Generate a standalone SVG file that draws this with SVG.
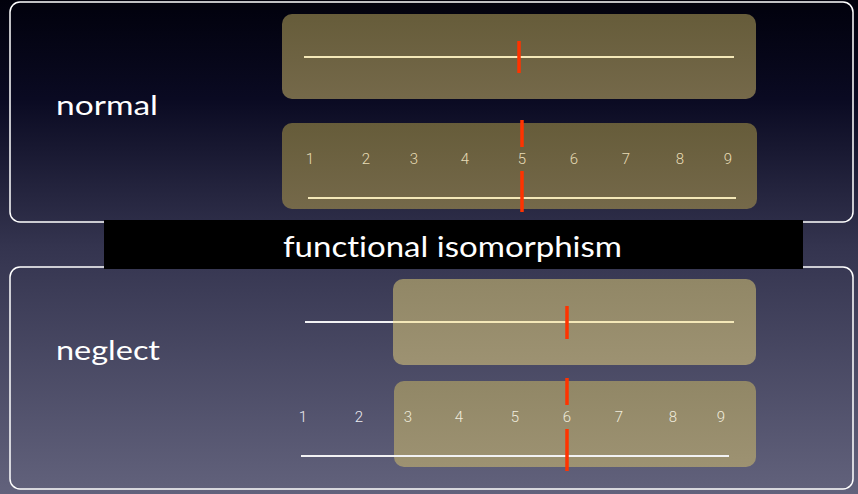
<svg xmlns="http://www.w3.org/2000/svg" width="858" height="494" viewBox="0 0 858 494">
  <defs>
    <linearGradient id="bg" x1="0" y1="0" x2="0" y2="1">
      <stop offset="0" stop-color="#01010c"/>
      <stop offset="0.2" stop-color="#0a0a22"/>
      <stop offset="0.5" stop-color="#34344f"/>
      <stop offset="1" stop-color="#62627c"/>
    </linearGradient>
    <linearGradient id="panelTop" x1="0" y1="0" x2="0" y2="1">
      <stop offset="0" stop-color="#665c3a"/>
      <stop offset="1" stop-color="#75694a"/>
    </linearGradient>
    <linearGradient id="panelBottom" x1="0" y1="0" x2="0" y2="1">
      <stop offset="0" stop-color="#918766"/>
      <stop offset="1" stop-color="#9d9272"/>
    </linearGradient>
  </defs>
  <style>
    text { font-variant-ligatures: none; }
    .frame { fill: none; stroke: #ffffff; stroke-width: 1.5; }
    .label { font-family: "Lato", "Open Sans", "Liberation Sans", sans-serif; font-size: 26px; fill: #ffffff; }
    .num { font-family: "Roboto", "Liberation Sans", sans-serif; font-weight: 300; font-size: 15px; text-anchor: middle; }
    .numIn { fill: #e8dcb6; }
    .numOut { fill: #ececf2; }
    .scale { stroke: #f4e8b8; stroke-width: 2; }
    .scaleOut { stroke: #f2f2f4; stroke-width: 2; }
    .mark { stroke: #ff3300; stroke-width: 3.5; }
  </style>

  <rect width="858" height="494" fill="url(#bg)"/>

  <!-- frames -->
  <g id="normal-frame">
    <rect class="frame" x="10" y="2" width="843" height="220" rx="10"/>
    <text class="label" x="56" y="115" textLength="102" lengthAdjust="spacingAndGlyphs">normal</text>
  </g>
  <g id="neglect-frame">
    <rect class="frame" x="10" y="267" width="843" height="222" rx="10"/>
    <text class="label" x="56" y="360" textLength="104" lengthAdjust="spacingAndGlyphs">neglect</text>
  </g>

  <!-- normal: line bisection -->
  <g id="normal-bisection">
    <rect x="282" y="14" width="474" height="85" rx="10" fill="url(#panelTop)"/>
    <line class="scale" x1="304" y1="57" x2="734" y2="57"/>
    <line class="mark" x1="519" y1="41" x2="519" y2="73"/>
  </g>

  <!-- normal: number scale -->
  <g id="normal-numbers">
    <rect x="282" y="123" width="475" height="86" rx="10" fill="url(#panelTop)"/>
    <g class="num numIn">
      <text x="310" y="164">1</text>
      <text x="366" y="164">2</text>
      <text x="414" y="164">3</text>
      <text x="465" y="164">4</text>
      <text x="522" y="164">5</text>
      <text x="574" y="164">6</text>
      <text x="626" y="164">7</text>
      <text x="680" y="164">8</text>
      <text x="728" y="164">9</text>
    </g>
    <line class="scale" x1="308" y1="198" x2="736" y2="198"/>
    <line class="mark" x1="522" y1="120" x2="522" y2="147"/>
    <line class="mark" x1="522" y1="171" x2="522" y2="212"/>
  </g>

  <!-- caption bar -->
  <g id="caption">
    <rect x="104" y="220" width="699" height="49" fill="#000000"/>
    <text x="283" y="257" font-family="Lato, 'Open Sans', 'Liberation Sans', sans-serif" font-size="29" fill="#ffffff" textLength="339" lengthAdjust="spacingAndGlyphs">functional isomorphism</text>
  </g>

  <!-- neglect: line bisection -->
  <g id="neglect-bisection">
    <rect x="393" y="279" width="363" height="86" rx="10" fill="url(#panelBottom)"/>
    <line class="scaleOut" x1="305" y1="322" x2="393" y2="322"/>
    <line class="scale" x1="393" y1="322" x2="734" y2="322"/>
    <line class="mark" x1="567" y1="306" x2="567" y2="339"/>
  </g>

  <!-- neglect: number scale -->
  <g id="neglect-numbers">
    <rect x="394" y="381" width="362" height="86" rx="10" fill="url(#panelBottom)"/>
    <g class="num numOut">
      <text x="303" y="422">1</text>
      <text x="359" y="422">2</text>
    </g>
    <g class="num" fill="#f0ebdc">
      <text x="408" y="422">3</text>
      <text x="459" y="422">4</text>
      <text x="515" y="422">5</text>
      <text x="567" y="422">6</text>
      <text x="619" y="422">7</text>
      <text x="673" y="422">8</text>
      <text x="721" y="422">9</text>
    </g>
    <line class="scaleOut" x1="301" y1="456" x2="394" y2="456"/>
    <line class="scaleOut" x1="394" y1="456" x2="729" y2="456" stroke="#f6f2e6"/>
    <line class="mark" x1="567" y1="378" x2="567" y2="405"/>
    <line class="mark" x1="567" y1="429" x2="567" y2="471"/>
  </g>
</svg>
